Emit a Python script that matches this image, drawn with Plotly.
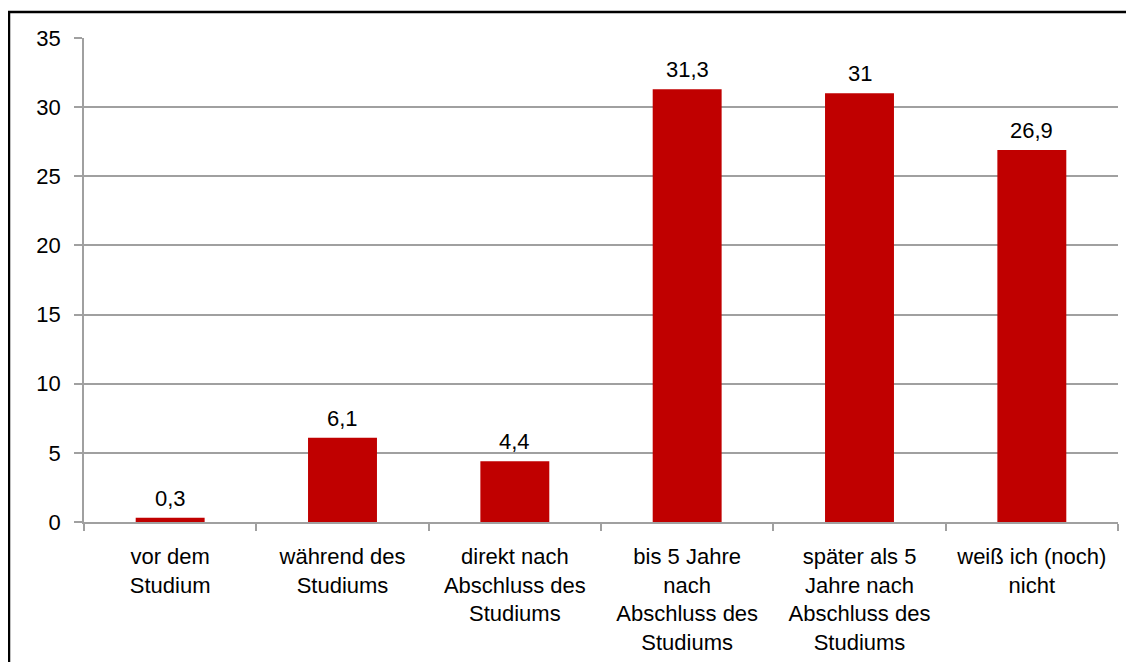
import plotly.graph_objects as go

categories = [
    "vor dem<br>Studium",
    "während des<br>Studiums",
    "direkt nach<br>Abschluss des<br>Studiums",
    "bis 5 Jahre<br>nach<br>Abschluss des<br>Studiums",
    "später als 5<br>Jahre nach<br>Abschluss des<br>Studiums",
    "weiß ich (noch)<br>nicht",
]
values = [0.3, 6.1, 4.4, 31.3, 31.0, 26.9]
value_labels = ["0,3", "6,1", "4,4", "31,3", "31", "26,9"]
y_ticks = [0, 5, 10, 15, 20, 25, 30, 35]

# page body has an 8px margin; compensate so the plot area lands at 84..1118 x 38..522
OFF = 8
W, H = 1134 - 2 * OFF, 670 - 2 * OFF
L, R, T, B = 84 - OFF, W + OFF - 1118, 38 - OFF, H + OFF - 522
pw, ph = W - L - R, H - T - B

FONT = "Liberation Sans, Arial"
FS = 22

fig = go.Figure(go.Bar(
    x=categories, y=values,
    marker=dict(color="#C00000", line=dict(width=0)),
    hoverinfo="x+y",
))

for c, v, t in zip(categories, values, value_labels):
    fig.add_annotation(x=c, y=v, text=t, showarrow=False, yanchor="bottom",
                       yshift=5, font=dict(size=FS, color="black", family=FONT))

def px_x(p):
    return (p - OFF - L) / pw

def px_y(p):
    return (H + OFF - B - p) / ph

fig.add_shape(type="rect", xref="paper", yref="paper",
              x0=px_x(9), x1=px_x(1160), y0=px_y(700), y1=px_y(12),
              line=dict(color="black", width=2.5), fillcolor="rgba(0,0,0,0)")

fig.update_layout(
    width=W, height=H,
    margin=dict(l=L, r=R, t=T, b=B, autoexpand=False),
    paper_bgcolor="white", plot_bgcolor="white",
    bargap=0.6,
    showlegend=False,
    font=dict(family=FONT, size=FS, color="black"),
    xaxis=dict(
        type="category", tickson="boundaries", ticks="outside", ticklen=7,
        tickcolor="#A0A0A0", tickwidth=1.5, showgrid=False,
        showline=True, linecolor="#A0A0A0", linewidth=1.5,
        tickfont=dict(size=FS), tickangle=0, ticklabelstandoff=14,
        automargin=False,
    ),
    yaxis=dict(
        range=[0, 35], tickvals=y_ticks, ticks="outside", ticklen=8,
        tickcolor="#A0A0A0", tickwidth=1.5,
        showgrid=True, gridcolor="#A0A0A0", gridwidth=1.5,
        showline=True, linecolor="#A0A0A0", linewidth=1.5,
        zeroline=False, tickfont=dict(size=FS), ticklabelstandoff=9,
        automargin=False,
    ),
)

fig.write_html("out.html")
